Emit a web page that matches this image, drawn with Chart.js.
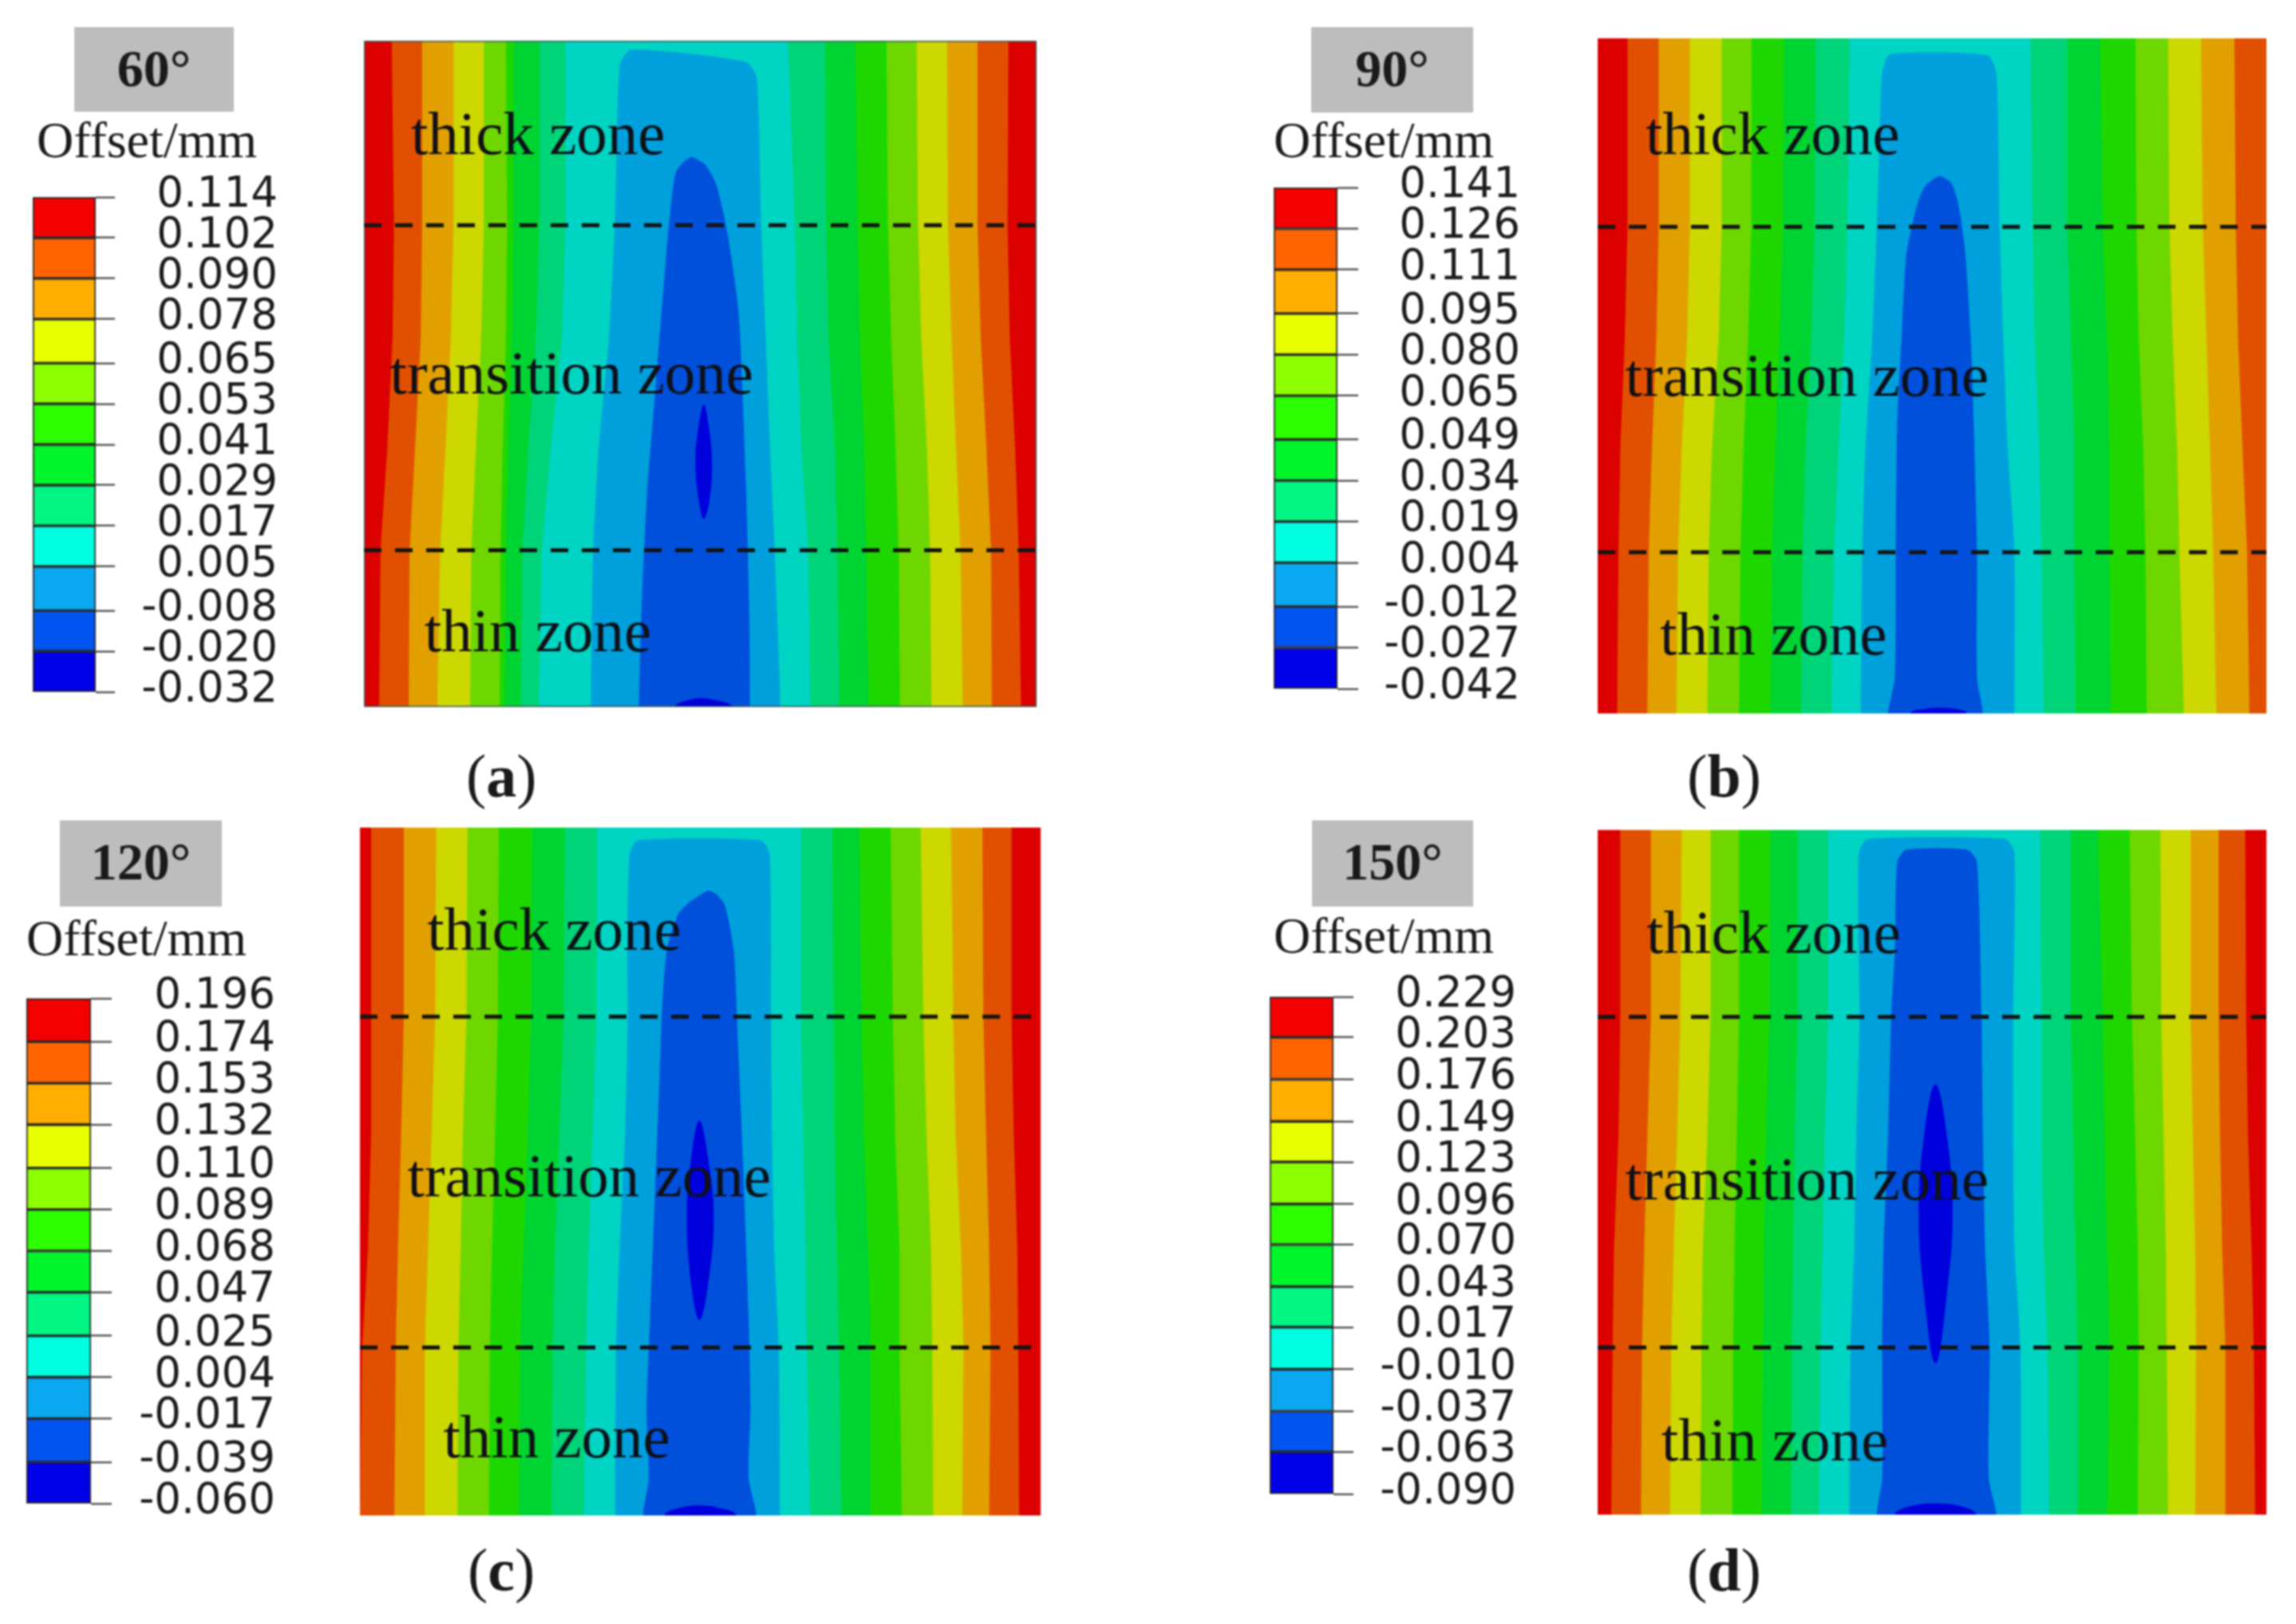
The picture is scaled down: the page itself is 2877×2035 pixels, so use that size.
<!DOCTYPE html>
<html><head><meta charset="utf-8">
<script src="https://cdn.jsdelivr.net/npm/chart.js@4"></script>
<style>
html,body{margin:0;padding:0;background:#fff;width:2877px;height:2035px;overflow:hidden}
canvas{position:absolute;display:block}
.t{position:absolute;white-space:nowrap;font-family:"Liberation Serif",serif;color:#1a1a1a;height:0;line-height:0}
.box{position:absolute;background:#bdbdbd}
</style></head><body>
<script>
/* ---------- data ---------- */
const levelNames = ['red','orange','amber','yellow','lime','green','green2','spring','cyan','blue','blue2','deep'];
const contourColors = ['#dc0000','#e15000','#e1a000','#cdd700','#6ed700','#1ed700','#00d432','#00d478','#00d4c3','#00a0dc','#0050dc','#0000dc'];
const legendColors = ['#f40000','#ff6400','#ffae00','#e8ff00','#8cff00','#2bff00','#00f52b','#00f582','#00ffe0','#0aa8f0','#0055f0','#0000e8'];

const anglesText = ['60°','90°','120°','150°'];
const captions = ['a','b','c','d'];
const zoneNames = ['thick zone','transition zone','thin zone'];

const ticksA = [0.114,0.102,0.090,0.078,0.065,0.053,0.041,0.029,0.017,0.005,-0.008,-0.020,-0.032];
const ticksB = [0.141,0.126,0.111,0.095,0.080,0.065,0.049,0.034,0.019,0.004,-0.012,-0.027,-0.042];
const ticksC = [0.196,0.174,0.153,0.132,0.110,0.089,0.068,0.047,0.025,0.004,-0.017,-0.039,-0.060];
const ticksD = [0.229,0.203,0.176,0.149,0.123,0.096,0.070,0.043,0.017,-0.010,-0.037,-0.063,-0.090];

/* contour boundaries: x of each band edge at each row (orange, amber, yellow, lime, green, green2, spring, cyan) */
const rowsA = [38,450,700,950,1175,1525];
const leftA = [[90,95,92,80,65,62],[158,158,155,142,130,128],[228,228,222,210,198,192],[296,296,290,278,268,265],[345,348,345,338,333,331],[362,362,358,350,345,342],[420,420,412,395,382,378],[478,478,470,445,425,418]];
const rightA = [[1467,1465,1470,1482,1490,1495],[1398,1398,1405,1418,1428,1430],[1330,1332,1340,1350,1360,1365],[1262,1265,1272,1285,1292,1295],[1195,1198,1205,1215,1222,1225],[1125,1130,1135,1145,1150,1155],[1058,1060,1065,1080,1085,1090],[975,990,995,1005,1020,1025]];
const blueA = [[625,58],[600,90],[592,300],[588,450],[575,700],[552,950],[540,1175],[535,1525],[958,1525],[945,1175],[935,950],[925,700],[915,450],[905,120],[880,85],[625,58]];
const domeA = [[758,298],[725,330],[712,420],[700,550],[680,800],[660,1050],[648,1300],[642,1525],[890,1525],[888,1300],[880,1000],[865,650],[840,470],[815,360],[790,315],[758,298]];
const coreA = [[787,850],[775,900],[768,975],[775,1060],[787,1105],[800,1060],[805,975],[798,900],[787,850]];
const capA = [[722,1525],[750,1510],[780,1505],[815,1510],[850,1525],[722,1525]];

const rowsB = [32,453,700,950,1180,1540];
const leftB = [[88,88,82,72,68,65],[157,157,152,142,135,132],[226,226,220,208,200,196],[297,297,290,275,268,265],[363,362,355,345,338,335],[435,432,425,415,408,405],[505,502,495,482,476,472],[580,575,568,555,545,540]];
const rightB = [[1600,1600,1600,1600,1600,1600],[1432,1435,1440,1450,1460,1465],[1358,1362,1370,1378,1385,1392],[1285,1288,1295,1305,1310,1320],[1213,1215,1220,1230,1235,1238],[1135,1140,1150,1155,1155,1158],[1062,1062,1070,1078,1078,1080],[980,985,990,1000,1005,1010]];
const blueB = [[670,68],[652,110],[645,300],[640,453],[630,700],[615,950],[608,1180],[605,1540],[945,1540],[945,1180],[930,950],[920,700],[912,453],[905,110],[885,70],[670,68]];
const domeB = [[778,340],[745,365],[725,420],[705,520],[695,700],[685,900],[682,1180],[680,1460],[665,1540],[875,1540],[862,1460],[862,1180],[855,900],[848,700],[835,500],[820,400],[805,355],[778,340]];
const coreB = [];
const capB = [[715,1540],[745,1530],[780,1527],[815,1530],[840,1540],[715,1540]];

const rowsC = [30,443,700,950,1165,1532];
const leftC = [[45,45,45,38,25,20],[118,118,112,105,100,97],[190,188,180,172,165,165],[260,258,250,245,240,238],[330,328,322,315,310,308],[405,402,395,385,378,375],[478,475,465,455,450,448],[550,548,540,530,525,520]];
const rightC = [[1475,1475,1480,1488,1490,1492],[1410,1412,1418,1425,1428,1425],[1340,1345,1350,1362,1368,1365],[1272,1278,1285,1295,1298,1300],[1205,1210,1215,1225,1225,1230],[1135,1140,1145,1155,1160,1160],[1075,1078,1080,1085,1090,1095],[1005,1005,1010,1015,1018,1025]];
const blueC = [[640,58],[622,90],[617,300],[618,443],[612,700],[600,950],[592,1165],[590,1532],[958,1532],[955,1165],[945,950],[940,700],[938,443],[935,90],[915,58],[640,58]];
const domeC = [[798,168],[760,190],[730,220],[705,300],[695,420],[690,550],[682,750],[668,1100],[660,1300],[665,1450],[652,1532],[905,1532],[888,1450],[892,1300],[888,1100],[875,750],[862,450],[855,300],[835,200],[815,175],[798,168]];
const coreC = [[778,670],[760,750],[750,880],[760,1030],[778,1105],[797,1030],[810,880],[797,750],[778,670]];
const capC = [[700,1532],[735,1515],[775,1510],[820,1515],[860,1532],[700,1532]];

const rowsD = [35,443,700,950,1165,1530];
const leftD = [[72,72,68,58,55,52],[140,140,132,125,120,118],[208,205,198,190,185,182],[272,272,265,255,252,250],[335,335,330,325,322,320],[405,402,395,390,388,385],[465,465,458,455,452,450],[532,532,525,520,515,512]];
const rightD = [[1456,1458,1462,1470,1475,1478],[1397,1397,1400,1405,1412,1412],[1335,1335,1340,1345,1347,1345],[1268,1270,1275,1280,1282,1285],[1200,1205,1212,1218,1220,1218],[1130,1140,1145,1150,1155,1150],[1070,1070,1075,1080,1085,1085],[1002,1005,1005,1010,1018,1022]];
const blueD = [[620,55],[600,85],[600,300],[602,443],[595,700],[590,950],[582,1165],[580,1530],[960,1530],[958,1165],[945,950],[942,700],[942,443],[945,85],[925,55],[620,55]];
const domeD = [[705,78],[685,105],[680,300],[672,443],[665,700],[655,950],[652,1165],[652,1450],[640,1530],[905,1530],[888,1450],[890,1165],[880,950],[875,700],[872,443],[862,105],[840,78],[705,78]];
const coreD = [[770,590],[745,700],[733,870],[745,1050],[770,1200],[795,1050],[808,870],[795,700],[770,590]];
const capD = [[680,1530],[720,1510],[770,1505],[820,1510],[860,1530],[680,1530]];

const dashRowsA = [450,1175], dashRowsB = [453,1180], dashRowsC = [443,1165], dashRowsD = [443,1165];
const xExtentA = [28,1530], xExtentB = [22,1503], xExtentC = [20,1540], xExtentD = [22,1503];
/* zone label anchors: x, baseline */
const zoneAtA = [[133,290],[86,825],[163,1400]];
const zoneAtB = [[128,290],[83,830],[160,1408]];
const zoneAtC = [[170,297],[126,835],[206,1405]];
const zoneAtD = [[130,303],[83,842],[163,1412]];

/* ---------- layout ---------- */
const panels = [
 {rows:rowsA,left:leftA,right:rightA,blue:blueA,dome:domeA,core:coreA,cap:capA,dash:dashRowsA,xr:xExtentA,zone:zoneAtA,ticks:ticksA,
  frame:[456,51,1299,886],framed:true,bar:[41,120,144,247,867,340],box:[93,34,293,140],textY:108,off:[46,198],cap2:[584,998]},
 {rows:rowsB,left:leftB,right:rightB,blue:blueB,dome:domeB,core:coreB,cap:capB,dash:dashRowsB,xr:xExtentB,zone:zoneAtB,ticks:ticksB,
  frame:[2002,48,2840,894],framed:false,bar:[1596,1676,1702,235,863,1897],box:[1643,34,1846,141],textY:108,off:[1596,198],cap2:[2114,998]},
 {rows:rowsC,left:leftC,right:rightC,blue:blueC,dome:domeC,core:coreC,cap:capC,dash:dashRowsC,xr:xExtentC,zone:zoneAtC,ticks:ticksC,
  frame:[451,1037,1304,1899],framed:false,bar:[33,114,140,1251,1884,337],box:[75,1028,278,1136],textY:1102,off:[33,1198],cap2:[586,1993]},
 {rows:rowsD,left:leftD,right:rightD,blue:blueD,dome:domeD,core:coreD,cap:capD,dash:dashRowsD,xr:xExtentD,zone:zoneAtD,ticks:ticksD,
  frame:[2002,1040,2840,1898],framed:false,bar:[1591,1671,1696,1249,1872,1892],box:[1644,1028,1846,1136],textY:1102,off:[1596,1195],cap2:[2114,1993]}
];
const BLUR='blur(0.9px)';
const toXY = pts => pts.map(p=>({x:p[0],y:p[1]}));
function addCanvas(l,t,w,h){
  const c=document.createElement('canvas');c.width=w;c.height=h;
  c.style.cssText=`left:${l}px;top:${t}px;width:${w}px;height:${h}px;filter:${BLUR}`;
  document.body.appendChild(c);return c;
}
function addText(html,l,base,size,weight){
  const d=document.createElement('div');d.className='t';d.innerHTML=html;
  d.style.cssText=`left:${l}px;top:${base-0.3375*size}px;font-size:${size}px;font-weight:${weight||400};filter:${BLUR}`;
  document.body.appendChild(d);return d;
}
function poly(pts,color,tension){
  return {data:toXY(pts),showLine:true,fill:'shape',backgroundColor:color,borderWidth:0,borderColor:color,pointRadius:0,tension:tension||0};
}
/* smooth closed outline: corners on the bottom edge are pushed below the frame, and the ends overlap so no cusp forms */
function shape(pts,color,tension,yb){
  const o=pts.slice(0,-1), n=o.length, out=[];
  o.forEach((q,i)=>{
    const nx=o[(i+1)%n], pv=o[(i-1+n)%n];
    if(q[1]>=yb && nx[1]>=yb){out.push(q,[q[0],yb+220]);}
    else if(q[1]>=yb && pv[1]>=yb){out.push([q[0],yb+220],q);}
    else out.push(q);
  });
  const w=[out[out.length-1]].concat(out,[out[0],out[1]]);
  return poly(w,color,tension);
}
function contour(p){
  const [x0,y0,x1,y1]=p.frame, [xa,xb]=p.xr, ya=p.rows[0], yb=p.rows[p.rows.length-1];
  const ds=[];
  ds.push(poly([[xa,ya],[xa,yb],[xb,yb],[xb,ya],[xa,ya]],contourColors[0]));
  p.left.forEach((lx,i)=>{
    const rx=p.right[i];
    const pts=p.rows.map((y,j)=>[lx[j],y]).concat(p.rows.map((y,j)=>[rx[j],y]).reverse());
    pts.push(pts[0]);
    ds.push(poly(pts,contourColors[i+1]));
  });
  ds.push(shape(p.blue,contourColors[9],0.22,yb));
  ds.push(shape(p.dome,contourColors[10],0.22,yb));
  if(p.core.length) ds.push(shape(p.core,contourColors[11],0.4,yb));
  ds.push(shape(p.cap,contourColors[11],0.3,yb));
  if(p.framed) ds.push({data:toXY([[xa,ya],[xa,yb],[xb,yb],[xb,ya],[xa,ya]]),showLine:true,fill:false,borderColor:'#3d5f5a',borderWidth:3,pointRadius:0,clip:false});
  p.dash.forEach(y=>ds.push({data:toXY([[xa,y],[xb,y]]),showLine:true,fill:false,borderColor:'#141414',borderWidth:5,borderDash:[22,17],pointRadius:0,clip:false}));
  const zonePlugin={id:'zones',afterDatasetsDraw(ch){
    const c=ch.ctx;c.save();c.font='77px "Liberation Serif"';c.fillStyle='#101018';c.textBaseline='alphabetic';c.textAlign='left';
    zoneNames.forEach((n,i)=>c.fillText(n,ch.scales.x.getPixelForValue(p.zone[i][0]),ch.scales.y.getPixelForValue(p.zone[i][1])));
    c.restore();
  }};
  new Chart(addCanvas(x0,y0,x1-x0,y1-y0),{type:'scatter',data:{datasets:ds.reverse()},plugins:[zonePlugin],options:{
    responsive:false,animation:false,events:[],layout:{padding:0},
    plugins:{legend:{display:false},tooltip:{enabled:false},title:{display:false}},
    scales:{x:{type:'linear',display:false,min:xa,max:xb},y:{type:'linear',display:false,reverse:true,min:ya,max:yb}}
  }});
}
function colorbar(p){
  const [bl,br,te,bt,bb,lr]=p.bar, tl=te-br, pad=80;
  const fs=53, widest=3.223*fs;
  const ds=legendColors.map((c,i)=>({label:levelNames[i],data:[[p.ticks[i+1],p.ticks[i]]],backgroundColor:c,borderColor:'#2a2a2a',borderWidth:2,borderSkipped:false,barPercentage:1,categoryPercentage:1,grouped:false}));
  const nudge={id:'nudge',beforeDraw(ch){ch.scales.y.getLabelItems().forEach(it=>{if(!it._n){it._n=1;it.options.translation[1]-=2;}});}};
  new Chart(addCanvas(bl-2,bt-pad,lr-bl+10,bb-bt+2*pad),{type:'bar',data:{labels:['Offset/mm'],datasets:ds},plugins:[nudge],options:{
    responsive:false,animation:false,events:[],layout:{autoPadding:false,padding:{left:2,top:pad,bottom:pad,right:0}},
    plugins:{legend:{display:false},tooltip:{enabled:false}},
    scales:{
      x:{display:false},
      y:{position:'right',min:p.ticks[12],max:p.ticks[0],
        afterBuildTicks:s=>{s.ticks=p.ticks.map(v=>({value:v}));},
        afterFit:s=>{s.width=lr-br+8;},
        grid:{drawOnChartArea:false,drawTicks:true,tickLength:tl,tickColor:'#333',tickWidth:2},
        border:{display:false},
        ticks:{autoSkip:false,crossAlign:'far',padding:lr-br-tl-widest-5,color:'#1c1c1c',font:{family:'"DejaVu Sans"',size:fs},callback:v=>Number(v).toFixed(3)}
      }
    }
  }});
}
panels.forEach((p,i)=>{
  contour(p);
  colorbar(p);
  const [a,b,c,d]=p.box;
  const bx=document.createElement('div');bx.className='box';
  bx.style.cssText=`left:${a}px;top:${b}px;width:${c-a}px;height:${d-b}px;filter:${BLUR}`;document.body.appendChild(bx);
  const tt=addText(anglesText[i],a,p.textY,66,700);tt.style.width=(c-a)+'px';tt.style.textAlign='center';
  addText('Offset/mm',p.off[0],p.off[1],64);
  addText('(<b>'+captions[i]+'</b>)',p.cap2[0],p.cap2[1],76);
});
</script>
</body></html>
